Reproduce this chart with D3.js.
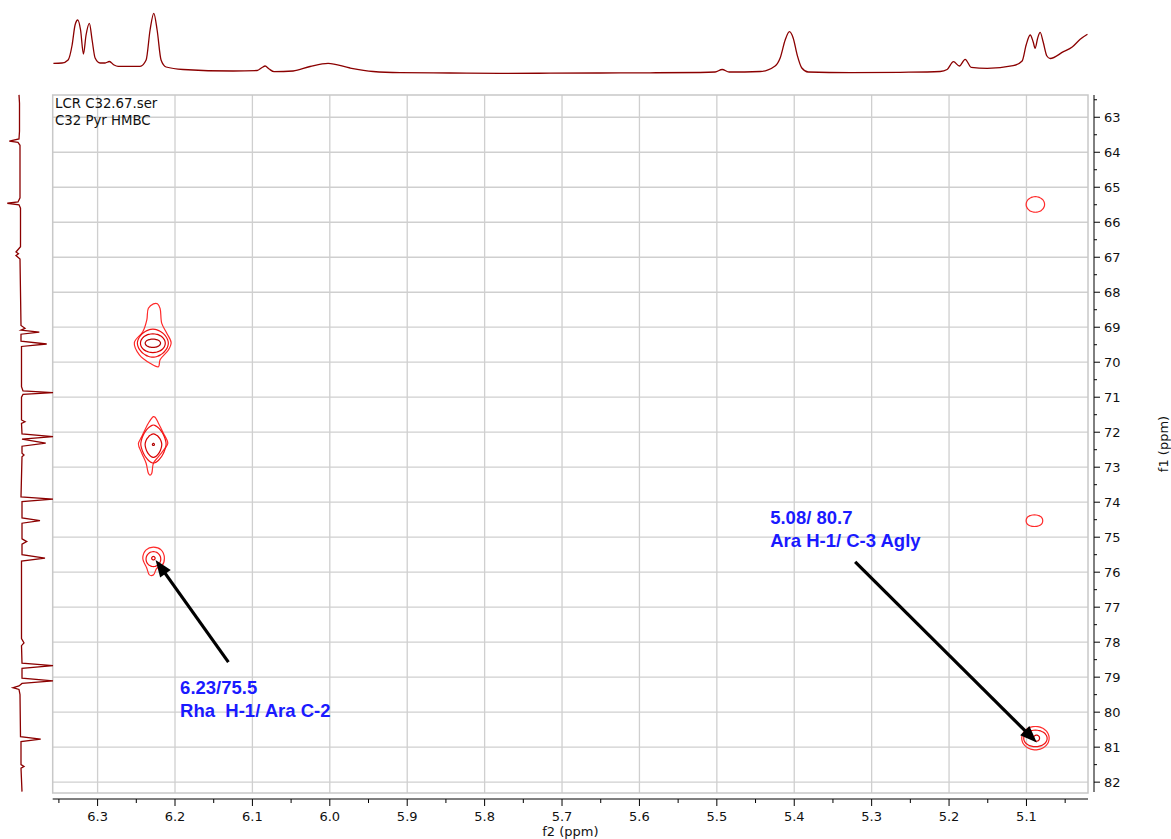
<!DOCTYPE html>
<html><head><meta charset="utf-8">
<script src="https://cdn.jsdelivr.net/npm/d3@7"></script>
<style>body{margin:0;background:#fff} svg{display:block}</style>
</head><body><svg id="c" width="1171" height="839"></svg>
<script>
// ---------- data ----------
const f2Domain = [6.358, 5.0205];
const f1Domain = [62.364, 82.31];
const f2Ticks = [6.3, 6.2, 6.1, 6.0, 5.9, 5.8, 5.7, 5.6, 5.5, 5.4, 5.3, 5.2, 5.1];
const f2TickLabels = ["6.3","6.2","6.1","6.0","5.9","5.8","5.7","5.6","5.5","5.4","5.3","5.2","5.1"];
const f2Minor = [6.35, 6.25, 6.15, 6.05, 5.95, 5.85, 5.75, 5.65, 5.55, 5.45, 5.35, 5.25, 5.15, 5.05];
const f1Ticks = [63,64,65,66,67,68,69,70,71,72,73,74,75,76,77,78,79,80,81,82];
const f1Minor = [62.5,63.5,64.5,65.5,66.5,67.5,68.5,69.5,70.5,71.5,72.5,73.5,74.5,75.5,76.5,77.5,78.5,79.5,80.5,81.5];

const titleLines = ["LCR C32.67.ser", "C32 Pyr HMBC"];
const f2Label = "f2 (ppm)";
const f1Label = "f1 (ppm)";

// top 1D projection (f2 ppm, intensity)
const topPpm = [6.3571,6.3459,6.3381,6.3329,6.3291,6.3256,6.322,6.3183,6.3149,6.3106,6.3071,6.3032,6.2968,6.2903,6.2848,6.2787,6.2735,6.2451,6.2373,6.2322,6.2274,6.2231,6.218,6.2115,6.1895,6.1249,6.0939,6.0875,6.0836,6.0784,6.072,6.0474,6.0255,6.0022,5.9738,5.9441,5.9092,5.8446,5.78,5.7154,5.6508,5.5862,5.5216,5.5022,5.4931,5.4841,5.444,5.4247,5.4182,5.4117,5.4062,5.4014,5.3962,5.3902,5.382,5.3278,5.2632,5.2115,5.2025,5.1943,5.1866,5.1792,5.1714,5.1507,5.1172,5.1056,5.1004,5.0952,5.0913,5.0888,5.0855,5.0823,5.0784,5.0736,5.0694,5.0522,5.0409,5.0306,5.0212];
const topInt = [11.7,12,15,30,50,55,45,21,40,51.7,35,17,12,12,13.5,10,8.7,8.7,15,45,61.7,45,15,8,5.5,4,4.5,7.5,9,6,3.3,4,8.5,11.7,7,3.5,2.3,2,1.7,1.8,2,2.2,2.5,3,5.5,3,3.5,9,17,35,43.3,37,20,7,3,2.3,2.7,3.5,5.5,13.3,9,15.7,7.7,6.7,9.3,14,30,40,33,26.7,37,42.7,33,19,16.5,23.3,28,35.7,40.7];

// left 1D projection (f1 ppm, intensity)
const leftPpm = [62.36,62.6,63.4,63.62,63.68,63.72,63.8,65.3,65.42,65.457,65.5,65.6,66.7,66.85,66.9,66.95,67.05,68.95,69.03,69.08,69.14,69.2,69.4,69.48,69.55,70.7,70.82,70.869,70.92,71.0,71.65,71.7,71.75,72.05,72.126,72.2,72.314,72.4,72.6,72.65,72.7,73.85,73.914,73.98,74.45,74.526,74.6,75.05,75.126,75.2,75.5,75.6,75.68,77.9,78.02,78.1,78.6,78.67,78.75,79.03,79.106,79.18,79.25,79.3,79.35,79.5,80.7,80.771,80.84,81.5,81.554,81.6,82.27];
const leftInt = [-1,-0.5,-0.5,-1,-10.7,-2,0,0,-2,-12.7,-1,0.5,0.5,-4,-1.5,-4,0,1,5,1,19.3,1,1,26.7,1.5,1.5,3,33,3,1.5,1.5,5,1.5,2,33,2,25.7,2,2,4,2,1,33,2,2,20,2,2,6.7,2,2,25,1.5,1.5,4,1.5,2,33,2,2,33,2,-1,-7,-1,0,0.5,20.7,1,1,4,1,2];

// contour outlines ([f2, f1] ppm)
const outline1 = [[6.2279,68.334],[6.2344,68.46],[6.2364,68.79],[6.2416,69.13],[6.2525,69.44],[6.246,69.79],[6.2322,70.03],[6.2214,70.13],[6.2193,69.93],[6.2085,69.65],[6.205,69.44],[6.2106,69.17],[6.2171,68.89],[6.2193,68.46],[6.2227,68.33]];
const outline2 = [[6.2279,71.554],[6.2344,71.743],[6.2429,72.126],[6.2473,72.334],[6.2429,72.6],[6.2373,72.886],[6.2344,73.171],[6.2322,73.229],[6.23,73.171],[6.2279,72.886],[6.2214,72.697],[6.2128,72.457],[6.2093,72.314],[6.215,72.029],[6.2214,71.743],[6.2257,71.571]];
const outline3 = [[6.2279,75.286],[6.218,75.363],[6.2137,75.6],[6.2171,75.82],[6.2235,75.886],[6.2279,76.077],[6.2331,76.077],[6.2364,75.886],[6.2416,75.6],[6.2373,75.363]];
const outlines = [outline1, outline2, outline3];

// simple contour rings: centre, half-widths (ppm), shape exponent, level
const rings = [
  {f2:6.2286, f1:69.457, l:0.0200, r:0.0200, t:0.40, b:0.40, n:1.8, lev:1},
  {f2:6.2286, f1:69.457, l:0.0160, r:0.0160, t:0.267, b:0.267, n:2, lev:2},
  {f2:6.2286, f1:69.457, l:0.0099, r:0.0099, t:0.119, b:0.119, n:2, lev:3},
  {f2:6.2279, f1:72.334, l:0.0163, r:0.0164, t:0.54, b:0.55, n:1.6, lev:1},
  {f2:6.2279, f1:72.35, l:0.0107, r:0.0108, t:0.30, b:0.37, n:1.7, lev:2},
  {f2:6.2279, f1:72.35, l:0.0013, r:0.0013, t:0.03, b:0.03, n:2, lev:3},
  {f2:6.2279, f1:75.626, l:0.0095, r:0.0095, t:0.214, b:0.214, n:2, lev:1},
  {f2:6.2279, f1:75.6, l:0.0022, r:0.0022, t:0.049, b:0.049, n:2, lev:2},
  {f2:5.0885, f1:65.491, l:0.0119, r:0.0119, t:0.223, b:0.223, n:2, lev:0},
  {f2:5.0897, f1:74.529, l:0.0107, r:0.0107, t:0.166, b:0.166, n:2.2, lev:0},
  {f2:5.0884, f1:80.743, l:0.0177, r:0.0177, t:0.334, b:0.334, n:2, lev:0},
  {f2:5.0884, f1:80.75, l:0.0151, r:0.0151, t:0.237, b:0.237, n:2, lev:1},
  {f2:5.0870, f1:80.743, l:0.0039, r:0.0039, t:0.086, b:0.086, n:2, lev:2}
];
const ringColors = ["#ff2a2a", "#f01212", "#d80000", "#b00000"];

const arrows = [
  {fromF2:6.131, fromF1:78.571, toF2:6.2251, toF1:75.649},
  {fromF2:5.3213, fromF1:75.705, toF2:5.0866, toF1:80.868}
];
const noteF2 = [6.1934, 6.1934, 5.4311, 5.4311];
const noteF1 = [79.477, 80.134, 74.62, 75.277];
const noteText = ["6.23/75.5", "Rha  H-1/ Ara C-2", "5.08/ 80.7", "Ara H-1/ C-3 Agly"];

// ---------- layout ----------
const L = 52.7, R = 1088, T = 95, B = 793;
const svg = d3.select("#c");
const x = d3.scaleLinear().domain(f2Domain).range([L, R]);
const y = d3.scaleLinear().domain(f1Domain).range([T, B]);
const topY = d3.scaleLinear().domain([0, 62]).range([75, 13]);
const leftX = d3.scaleLinear().domain([0, 33]).range([20, 53]);
const FONT = "'DejaVu Sans', Verdana, sans-serif";

// grid
const grid = svg.append("g");
grid.selectAll("line.v").data(f2Ticks).join("line")
  .attr("x1", d => x(d)).attr("x2", d => x(d)).attr("y1", T).attr("y2", B)
  .attr("stroke", "#cfcfcf").attr("stroke-width", 1.3);
grid.selectAll("line.h").data(f1Ticks).join("line")
  .attr("y1", d => y(d)).attr("y2", d => y(d)).attr("x1", L).attr("x2", R)
  .attr("stroke", "#cfcfcf").attr("stroke-width", 1.3);
grid.append("rect").attr("x", L).attr("y", T).attr("width", R - L).attr("height", B - T)
  .attr("fill", "none").attr("stroke", "#c8c8c8").attr("stroke-width", 1.5);

// title text
svg.append("g").selectAll("text").data(titleLines).join("text")
  .attr("x", 55).attr("y", (d, i) => 108 + i * 17)
  .attr("font-family", FONT).attr("font-size", 13.3).attr("fill", "#111").text(d => d);

// x axis
const xAxisY = 799;
const gx = svg.append("g").attr("transform", `translate(0,${xAxisY})`);
gx.append("line").attr("x1", L).attr("x2", R).attr("stroke", "#000");
gx.selectAll("line.maj").data(f2Ticks).join("line").attr("class","maj")
  .attr("x1", d => x(d)).attr("x2", d => x(d)).attr("y1", 0).attr("y2", 7).attr("stroke", "#000");
gx.selectAll("line.min").data(f2Minor).join("line").attr("class","min")
  .attr("x1", d => x(d)).attr("x2", d => x(d)).attr("y1", 0).attr("y2", 4).attr("stroke", "#000");
gx.selectAll("text").data(f2Ticks).join("text")
  .attr("x", d => x(d)).attr("y", 22).attr("text-anchor", "middle")
  .attr("font-family", FONT).attr("font-size", 13).attr("fill", "#111")
  .text((d, i) => f2TickLabels[i]);
svg.append("text").attr("x", (L + R) / 2).attr("y", 836).attr("text-anchor", "middle")
  .attr("font-family", FONT).attr("font-size", 13).attr("fill", "#111").text(f2Label);

// y axis
const yAxisX = 1094;
const gy = svg.append("g").attr("transform", `translate(${yAxisX},0)`);
gy.append("line").attr("y1", T).attr("y2", B - 1).attr("stroke", "#000");
gy.selectAll("line.maj").data(f1Ticks).join("line").attr("class","maj")
  .attr("y1", d => y(d)).attr("y2", d => y(d)).attr("x1", 0).attr("x2", 6).attr("stroke", "#000");
gy.selectAll("line.min").data(f1Minor).join("line").attr("class","min")
  .attr("y1", d => y(d)).attr("y2", d => y(d)).attr("x1", 0).attr("x2", 3).attr("stroke", "#000");
gy.selectAll("text").data(f1Ticks).join("text")
  .attr("x", 10).attr("y", d => y(d)).attr("dy", "0.36em")
  .attr("font-family", FONT).attr("font-size", 13).attr("fill", "#111").text(d => d);
svg.append("text").attr("transform", `translate(1168,${(T + B) / 2}) rotate(-90)`)
  .attr("text-anchor", "middle").attr("font-family", FONT).attr("font-size", 13)
  .attr("fill", "#111").text(f1Label);

// projections
const topLine = d3.line().x((d, i) => x(topPpm[i])).y((d, i) => topY(topInt[i])).curve(d3.curveMonotoneX);
svg.append("path").attr("d", topLine(topPpm)).attr("fill", "none")
  .attr("stroke", "#8b0000").attr("stroke-width", 1.3);
const leftLine = d3.line().x((d, i) => leftX(leftInt[i])).y((d, i) => y(leftPpm[i])).curve(d3.curveLinear);
svg.append("path").attr("d", leftLine(leftPpm)).attr("fill", "none")
  .attr("stroke", "#8b0000").attr("stroke-width", 1.3);

// contours
const closed = d3.line().curve(d3.curveCatmullRomClosed.alpha(0.5));
const cg = svg.append("g").attr("fill", "none").attr("stroke-width", 1.2);
cg.selectAll("path.o").data(outlines).join("path").attr("class","o")
  .attr("d", pts => closed(pts.map(p => [x(p[0]), y(p[1])])))
  .attr("stroke", ringColors[0]);
function ringPts(r) {
  const pts = [];
  for (let k = 0; k < 36; k++) {
    const a = k / 36 * 2 * Math.PI, c = Math.cos(a), s = Math.sin(a);
    const e = 2 / r.n;
    const cx = Math.sign(c) * Math.pow(Math.abs(c), e), sy = Math.sign(s) * Math.pow(Math.abs(s), e);
    const df2 = cx >= 0 ? -cx * r.r : -cx * r.l;   // right = lower ppm
    const df1 = sy >= 0 ? sy * r.b : sy * r.t;
    pts.push([x(r.f2 + df2), y(r.f1 + df1)]);
  }
  return pts;
}
cg.selectAll("path.r").data(rings).join("path").attr("class","r")
  .attr("d", r => closed(ringPts(r)))
  .attr("stroke", r => ringColors[r.lev]);

// arrows
const ag = svg.append("g");
arrows.forEach(a => {
  const x0 = x(a.fromF2), y0 = y(a.fromF1), x1 = x(a.toF2), y1 = y(a.toF1);
  const dx = x1 - x0, dy = y1 - y0, len = Math.hypot(dx, dy), ux = dx / len, uy = dy / len;
  const hl = 17, hw = 6.5;
  const bx = x1 - ux * hl, by = y1 - uy * hl;
  ag.append("line").attr("x1", x0).attr("y1", y0).attr("x2", bx + ux * 2).attr("y2", by + uy * 2)
    .attr("stroke", "#000").attr("stroke-width", 3.2);
  ag.append("path").attr("d", `M${x1},${y1}L${bx - uy * hw},${by + ux * hw}L${bx + uy * hw},${by - ux * hw}Z`)
    .attr("fill", "#000");
});

// notes
svg.append("g").selectAll("text").data(noteText).join("text")
  .attr("x", (d, i) => x(noteF2[i])).attr("y", (d, i) => y(noteF1[i]))
  .attr("font-family", "'Liberation Sans', Arial, sans-serif").attr("font-weight", "bold")
  .attr("font-size", 18.5).attr("fill", "#1a1aff").style("white-space", "pre").text(d => d);
</script></body></html>
